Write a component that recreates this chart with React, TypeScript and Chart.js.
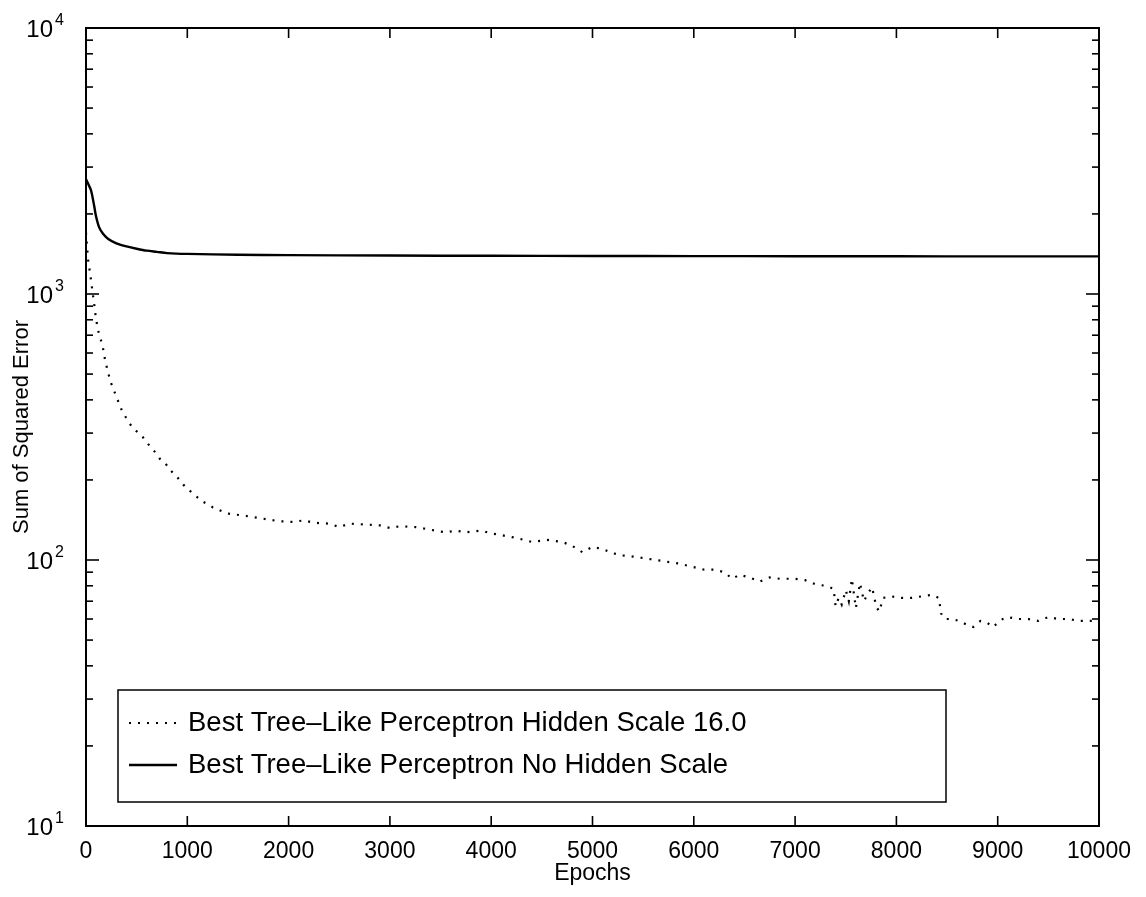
import React, { useEffect, useRef } from "react";
import { Chart, registerables } from "chart.js";

Chart.register(...registerables);

// ---- data ----
const seriesLabels = [
  "Best Tree\u2013Like Perceptron Hidden Scale 16.0",
  "Best Tree\u2013Like Perceptron No Hidden Scale",
];

const epochsHidden = [
  0, 20, 40, 60, 80, 100, 130, 160, 190, 240, 290, 360, 450, 510, 560, 630, 680, 730, 780, 830,
  900, 960, 1060, 1150, 1250, 1350, 1420, 1550, 1650, 1800, 1900, 2050, 2150, 2250, 2400, 2500,
  2600, 2750, 2900, 3000, 3100, 3250, 3400, 3550, 3650, 3750, 3900, 4000, 4100, 4250, 4400, 4550,
  4700, 4800, 4900, 5000, 5100, 5200, 5300, 5400, 5550, 5700, 5850, 6000, 6100, 6200, 6300, 6380,
  6450, 6550, 6650, 6750, 6850, 7000, 7100, 7200, 7300, 7380, 7400, 7430, 7460, 7500, 7530, 7560,
  7600, 7640, 7680, 7720, 7760, 7800, 7830, 7870, 7950, 8050, 8150, 8250, 8350, 8420, 8440, 8480,
  8550, 8620, 8700, 8760, 8830, 8900, 8950, 9050, 9100, 9200, 9300, 9400, 9500, 9600, 9700, 9800,
  10000,
];
const sseHidden = [
  1700, 1350, 1200, 1050, 920, 800, 700, 650, 560, 470, 420, 360, 318, 302, 290, 268, 255, 240, 232, 218,
  205, 192, 177, 166, 158, 152, 149, 147, 145, 142, 140, 139, 141, 138, 137, 133,
  137, 136, 135, 132, 134, 133, 130, 127, 129, 127, 129, 126, 124, 121, 117, 119,
  117, 113, 107, 112, 110, 106, 104, 103, 101, 99, 97, 94, 92, 92, 90, 85,
  88, 86, 83, 86, 85, 85, 84, 81, 80, 78, 67, 72, 68, 77, 70, 85,
  66, 82, 70, 75, 79, 67, 64, 72, 73, 72, 72, 73, 74, 72, 63, 60,
  60, 59, 57, 56, 59, 58, 56, 60, 61, 60, 60, 59, 61, 60, 60, 59,
  59,
];

const epochsNoHidden = [
  0, 20, 50, 80, 100, 130, 170, 220, 300, 400, 500, 600, 700, 800, 1000, 1500, 2000, 3000, 4000,
  5000, 6000, 7000, 8000, 9000, 10000,
];
const sseNoHidden = [
  2700, 2600, 2450, 2150, 1950, 1780, 1680, 1610, 1550, 1510, 1480, 1455, 1440, 1425, 1415, 1405,
  1400, 1395, 1392, 1390, 1388, 1387, 1386, 1385, 1385,
];

const xTickValues = [0, 1000, 2000, 3000, 4000, 5000, 6000, 7000, 8000, 9000, 10000];
const yTickValues = [10, 100, 1000, 10000];
const yTickBase = "10";
const yTickExponents = ["1", "2", "3", "4"];

const FONT = "'Liberation Sans', Arial, Helvetica, sans-serif";

const framePlugin = {
  id: "frameAndLegend",
  afterDraw(chart: any) {
    const { ctx, chartArea, scales } = chart;
    const { left, right, top, bottom } = chartArea;
    const x = scales.x;
    const y = scales.y;
    const line = (x1: number, y1: number, x2: number, y2: number) => {
      ctx.beginPath();
      ctx.moveTo(x1, y1);
      ctx.lineTo(x2, y2);
      ctx.stroke();
    };
    ctx.save();
    ctx.strokeStyle = "#000";
    ctx.lineWidth = 2;
    ctx.strokeRect(left, top, right - left, bottom - top);
    ctx.lineWidth = 1.6;
    xTickValues.forEach((v) => {
      const px = x.getPixelForValue(v);
      line(px, bottom, px, bottom - 10);
      line(px, top, px, top + 10);
    });
    for (let d = 10; d < 10000; d *= 10) {
      for (let m = 1; m <= 9; m++) {
        const py = y.getPixelForValue(d * m);
        const len = m === 1 ? 13 : 7;
        line(left, py, left + len, py);
        line(right, py, right - len, py);
      }
    }

    // y tick labels: base with superscript exponent
    ctx.fillStyle = "#000";
    yTickValues.forEach((v, i) => {
      const py = y.getPixelForValue(v);
      ctx.font = `24px ${FONT}`;
      ctx.textAlign = "right";
      ctx.textBaseline = "middle";
      ctx.fillText(yTickBase, 53, py + 2);
      ctx.font = `16px ${FONT}`;
      ctx.textAlign = "left";
      ctx.textBaseline = "top";
      ctx.fillText(yTickExponents[i], 55, py - 15);
    });

    // legend box
    const bx = 118, by = 690, bw = 828, bh = 112;
    ctx.fillStyle = "#fff";
    ctx.fillRect(bx, by, bw, bh);
    ctx.lineWidth = 1.5;
    ctx.strokeRect(bx, by, bw, bh);
    const rows = [723, 765];
    chart.data.datasets.forEach((ds: any, i: number) => {
      const ry = rows[i];
      ctx.lineWidth = ds.borderWidth;
      ctx.setLineDash(ds.borderDash || []);
      ctx.lineCap = ds.borderCapStyle || "butt";
      line(129, ry, 177, ry);
      ctx.setLineDash([]);
      ctx.fillStyle = "#000";
      ctx.font = `27.5px ${FONT}`;
      ctx.textBaseline = "middle";
      ctx.textAlign = "left";
      ctx.fillText(ds.label, 188, ry);
    });
    ctx.restore();
  },
};

export default function App() {
  const ref = useRef<HTMLCanvasElement | null>(null);
  useEffect(() => {
    document.body.style.margin = "0";
    const canvas = ref.current!;
    const chart = new Chart(canvas, {
      type: "line",
      data: {
        datasets: [
          {
            label: seriesLabels[0],
            data: epochsHidden.map((e, i) => ({ x: e, y: sseHidden[i] })),
            borderColor: "#000",
            borderWidth: 2.2,
            borderDash: [2, 7],
            pointRadius: 0,
            tension: 0,
            fill: false,
          },
          {
            label: seriesLabels[1],
            data: epochsNoHidden.map((e, i) => ({ x: e, y: sseNoHidden[i] })),
            borderColor: "#000",
            borderWidth: 2.4,
            pointRadius: 0,
            tension: 0.3,
            fill: false,
          },
        ],
      },
      options: {
        responsive: false,
        animation: false,
        devicePixelRatio: 1,
        layout: { padding: { left: 0, top: 28, right: 47, bottom: 0 } },
        plugins: { legend: { display: false }, tooltip: { enabled: false } },
        scales: {
          x: {
            type: "linear",
            min: 0,
            max: 10000,
            grid: { display: false },
            border: { display: false },
            afterBuildTicks: (s: any) => {
              s.ticks = xTickValues.map((v) => ({ value: v }));
            },
            afterFit: (s: any) => {
              s.height = 71;
              s.paddingLeft = 0;
              s.paddingRight = 0;
            },
            ticks: {
              color: "#000",
              font: { family: FONT, size: 23 },
              padding: 4,
              maxRotation: 0,
              autoSkip: false,
              callback: (v: any) => String(v),
            },
            title: {
              display: true,
              text: "Epochs",
              color: "#000",
              font: { family: FONT, size: 23 },
              padding: { top: 0, bottom: 10 },
            },
          },
          y: {
            type: "logarithmic",
            min: 10,
            max: 10000,
            grid: { display: false },
            border: { display: false },
            afterBuildTicks: (s: any) => {
              s.ticks = yTickValues.map((v) => ({ value: v }));
            },
            afterFit: (s: any) => {
              s.width = 86;
              s.paddingTop = 0;
              s.paddingBottom = 0;
            },
            ticks: { display: false },
            title: {
              display: true,
              text: "Sum of Squared Error",
              color: "#000",
              font: { family: FONT, size: 22 },
              padding: { top: 9, bottom: 0 },
            },
          },
        },
      },
      plugins: [framePlugin],
    });
    return () => chart.destroy();
  }, []);
  return <canvas ref={ref} width={1146} height={897} style={{ display: "block" }} />;
}
